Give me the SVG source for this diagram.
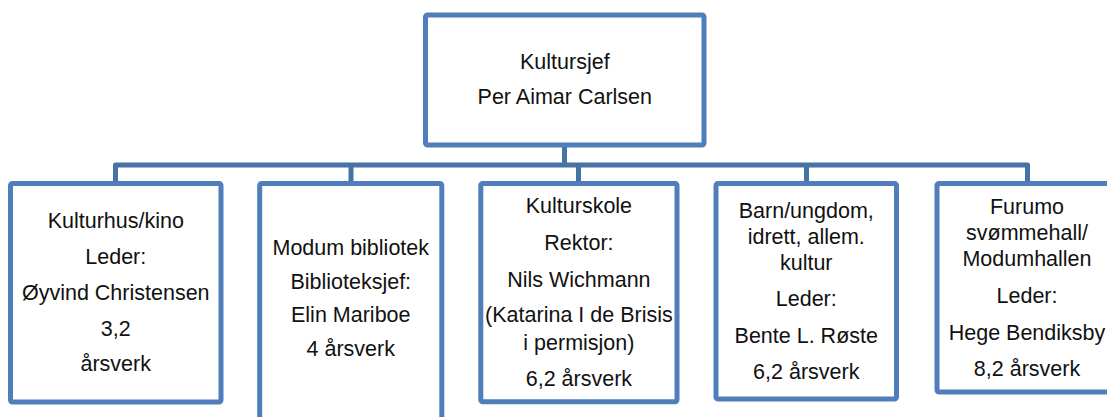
<svg xmlns="http://www.w3.org/2000/svg" width="1107" height="417" viewBox="0 0 1107 417">
<style>
.box{fill:#ffffff;stroke:#4F7EBA;stroke-width:5}
.conn{fill:none;stroke:#4672A6;stroke-width:5;stroke-linejoin:round}
text{font-family:"Liberation Sans",Arial,sans-serif;font-size:21.5px;fill:#111111;text-anchor:middle}
</style>
<rect width="1107" height="417" fill="#ffffff"/>
<g id="connectors">
<path class="conn" d="M564.5 145 V165"/>
<path class="conn" d="M115.5 183.5 V165 H1027.5 V183.5"/>
<path class="conn" d="M351 165 V183.5"/>
<path class="conn" d="M578.5 165 V183.5"/>
<path class="conn" d="M806.5 165 V183.5"/>
</g>
<g id="node-kultursjef">
<rect class="box" x="425.5" y="15" width="278.5" height="130" rx="2"/>
<text x="564.8" y="69">Kultursjef</text>
<text x="564.8" y="104">Per Aimar Carlsen</text>
</g>
<g id="node-kulturhus">
<rect class="box" x="10.5" y="183.5" width="210.5" height="218.5" rx="2"/>
<text x="115.75" y="228">Kulturhus/kino</text>
<text x="115.75" y="264">Leder:</text>
<text x="115.75" y="300">Øyvind Christensen</text>
<text x="115.75" y="335.5">3,2</text>
<text x="115.75" y="371">årsverk</text>
</g>
<g id="node-bibliotek">
<rect class="box" x="259.7" y="183.5" width="182.1" height="250" rx="2"/>
<text x="350.75" y="255">Modum bibliotek</text>
<text x="350.75" y="289">Biblioteksjef:</text>
<text x="350.75" y="322">Elin Mariboe</text>
<text x="350.75" y="356">4 årsverk</text>
</g>
<g id="node-kulturskole">
<rect class="box" x="480.8" y="183.5" width="196.2" height="218.3" rx="2"/>
<text x="578.9" y="212.7">Kulturskole</text>
<text x="578.9" y="250">Rektor:</text>
<text x="578.9" y="286.7">Nils Wichmann</text>
<text x="578.9" y="322">(Katarina I de Brisis</text>
<text x="578.9" y="349.5">i permisjon)</text>
<text x="578.9" y="386">6,2 årsverk</text>
</g>
<g id="node-barn">
<rect class="box" x="716" y="183.5" width="180.5" height="215.5" rx="2"/>
<text x="806.25" y="218.3">Barn/ungdom,</text>
<text x="806.25" y="244.3">idrett, allem.</text>
<text x="806.25" y="270">kultur</text>
<text x="806.25" y="305.7">Leder:</text>
<text x="806.25" y="342.5">Bente L. Røste</text>
<text x="806.25" y="379">6,2 årsverk</text>
</g>
<g id="node-furumo">
<rect class="box" x="937" y="183.5" width="180" height="208.5" rx="2"/>
<text x="1027" y="214">Furumo</text>
<text x="1027" y="240">svømmehall/</text>
<text x="1027" y="266">Modumhallen</text>
<text x="1027" y="303">Leder:</text>
<text x="1027" y="340">Hege Bendiksby</text>
<text x="1027" y="376">8,2 årsverk</text>
</g>
</svg>
